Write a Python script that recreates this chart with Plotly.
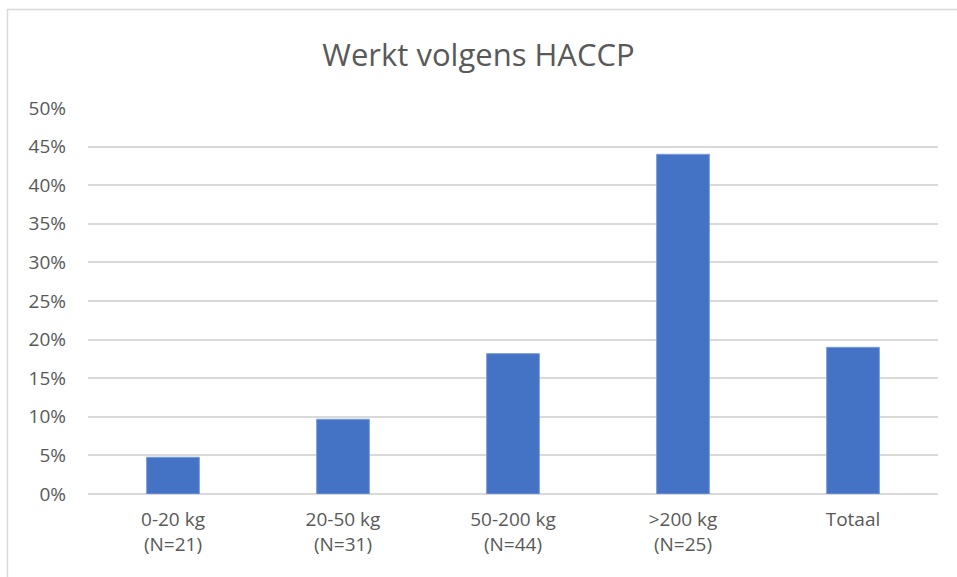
import plotly.graph_objects as go

categories = ["0-20 kg<br>(N=21)", "20-50 kg<br>(N=31)", "50-200 kg<br>(N=44)", ">200 kg<br>(N=25)", "Totaal"]
values = [0.0476, 0.0968, 0.1818, 0.44, 0.19]
tick_vals = [0, 0.05, 0.10, 0.15, 0.20, 0.25, 0.30, 0.35, 0.40, 0.45, 0.50]
tick_text = ["0%", "5%", "10%", "15%", "20%", "25%", "30%", "35%", "40%", "45%", "50%"]

W, H = 957, 577
ml, mr, mt, mb = 88, 19, 108, 83

fig = go.Figure(go.Bar(
    x=categories, y=values,
    marker=dict(color="#4472C4", line=dict(color="#7A9ADB", width=1)),
))

fig.update_layout(
    width=W, height=H,
    margin=dict(l=ml, r=mr, t=mt, b=mb),
    paper_bgcolor="white", plot_bgcolor="white",
    font=dict(family="Open Sans, Lato, sans-serif", size=19, color="#595959"),
    title=dict(text="Werkt volgens HACCP", x=0.5, xanchor="center", y=1 - 55 / H, yanchor="middle",
               font=dict(size=31, color="#595959")),
    bargap=0.69,
    showlegend=False,
    xaxis=dict(showgrid=False, showline=False, ticks="", tickfont=dict(size=19),
               ticklabelstandoff=12),
    yaxis=dict(range=[0, 0.5], tickvals=tick_vals, ticktext=tick_text,
               showgrid=True, gridcolor="#D9D9D9", gridwidth=1.5, zeroline=True,
               zerolinecolor="#D9D9D9", zerolinewidth=1.5, ticks="", ticklen=0,
               tickfont=dict(size=19), ticklabelstandoff=21),
    shapes=[
        dict(type="rect", xref="paper", yref="paper",
             x0=(7.5 - ml) / (W - ml - mr), x1=(W + 5 - ml) / (W - ml - mr),
             y0=(H - mb - (H + 5)) / (H - mt - mb), y1=(H - mb - 9.5) / (H - mt - mb),
             line=dict(color="#D9D9D9", width=1.5), fillcolor="rgba(0,0,0,0)", layer="below"),
    ],
)

fig.write_html("out.html", config={"displayModeBar": False},
               post_script="document.body.style.margin='0';document.body.style.padding='0';")
